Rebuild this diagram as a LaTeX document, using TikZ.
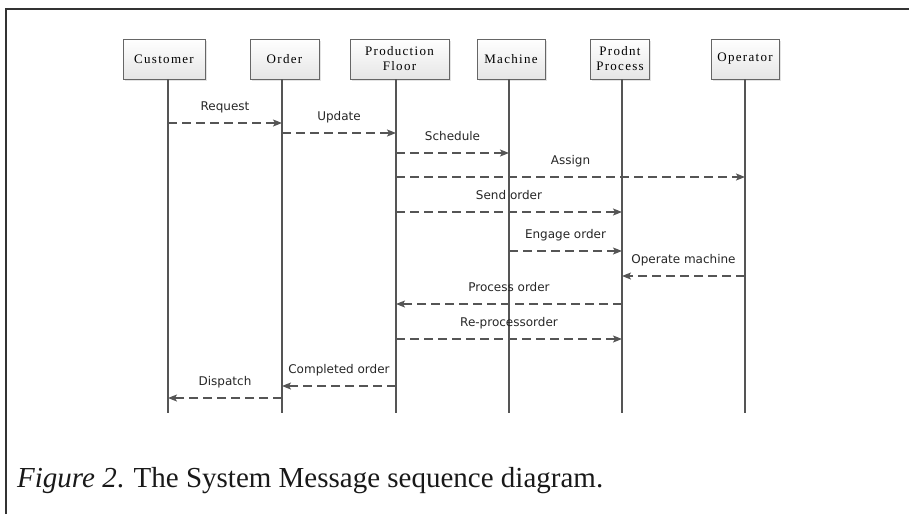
\documentclass[tikz,border=0pt]{standalone}
\usepackage{fontspec}
\setmainfont{Liberation Serif}
\newfontfamily\boxfont[LetterSpace=10]{Liberation Serif}
\newfontfamily\msgfont{DejaVu Sans}
\usetikzlibrary{arrows.meta,shadows}
\definecolor{linegray}{HTML}{555555}
\definecolor{framegray}{HTML}{333333}
\begin{document}
\begin{tikzpicture}[x=1pt,y=-1pt,
  objbox/.style={draw=linegray!90, line width=0.8pt, top color=white, bottom color=black!10,
    minimum height=40pt, inner sep=1pt, align=center,
    font=\boxfont\fontsize{13}{15}\selectfont,
    drop shadow={shadow xshift=1.6pt, shadow yshift=-1.6pt, fill=black!22}},
  lifeline/.style={draw=linegray, line width=1.6pt},
  msg/.style={draw=linegray, line width=1.2pt, dash pattern=on 9pt off 5pt,
    -{Stealth[length=9pt,width=7pt,inset=2pt]}},
  msglabel/.style={font=\msgfont\fontsize{12}{14}\selectfont, text=black!85,
    text height=9pt, text depth=3pt, inner sep=0pt, yshift=16pt}
]
\useasboundingbox (0,0) rectangle (909,514);
% frame
\draw[framegray, line width=1.4pt] (6,514) -- (6,9) -- (909,9);

% object boxes
\node[objbox, minimum width=82pt] (cust) at (164,59) {Customer};
\node[objbox, minimum width=69pt] (ord)  at (284.5,59) {Order};
\node[objbox, minimum width=99pt] (pf)   at (399.5,59) {Production\\Floor};
\node[objbox, minimum width=68pt] (mach) at (511,59) {Machine};
\node[objbox, minimum width=59pt] (pp)   at (620,59) {Prodnt\\Process};
\node[objbox, minimum width=68pt] (oper) at (745,59) {Operator};

% lifeline ends
\coordinate (cT) at (168,79);  \coordinate (cB) at (168,413);
\coordinate (oT) at (282,79);  \coordinate (oB) at (282,413);
\coordinate (fT) at (396,79);  \coordinate (fB) at (396,413);
\coordinate (mT) at (509,79);  \coordinate (mB) at (509,413);
\coordinate (pT) at (622,79);  \coordinate (pB) at (622,413);
\coordinate (rT) at (745,79);  \coordinate (rB) at (745,413);

\foreach \t/\b in {cT/cB,oT/oB,fT/fB,mT/mB,pT/pB,rT/rB}
  \draw[lifeline] (\t) -- (\b);

% messages
\draw[msg] (cB |- 0,123) -- node[msglabel] {Request} (oB |- 0,123);
\draw[msg] (oB |- 0,133) -- node[msglabel] {Update} (fB |- 0,133);
\draw[msg] (fB |- 0,153) -- node[msglabel] {Schedule} (mB |- 0,153);
\draw[msg] (fB |- 0,177) -- node[msglabel] {Assign} (rB |- 0,177);
\draw[msg] (fB |- 0,212) -- node[msglabel] {Send order} (pB |- 0,212);
\draw[msg] (mB |- 0,251) -- node[msglabel] {Engage order} (pB |- 0,251);
\draw[msg] (rB |- 0,276) -- node[msglabel] {Operate machine} (pB |- 0,276);
\draw[msg] (pB |- 0,304) -- node[msglabel] {Process order} (fB |- 0,304);
\draw[msg] (fB |- 0,339) -- node[msglabel] {Re-processorder} (pB |- 0,339);
\draw[msg] (fB |- 0,386) -- node[msglabel] {Completed order} (oB |- 0,386);
\draw[msg] (oB |- 0,398) -- node[msglabel] {Dispatch} (cB |- 0,398);

% caption
\node[anchor=base west, inner sep=0pt, font=\fontsize{29}{33}\selectfont, text=black!90] (cap) at (17,487)
  {\textit{Figure 2}. The System Message sequence diagram.};
\end{tikzpicture}
\end{document}
